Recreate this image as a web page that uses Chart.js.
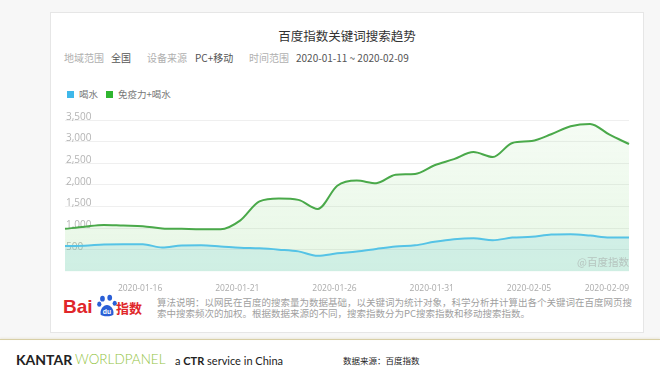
<!DOCTYPE html>
<html lang="zh-CN">
<head>
<meta charset="utf-8">
<title>百度指数关键词搜索趋势</title>
<script src="https://cdn.jsdelivr.net/npm/chart.js@4.4.1/dist/chart.umd.min.js"></script>
<style>
  html, body { margin: 0; padding: 0; }
  body {
    width: 660px; height: 372px; position: relative; overflow: hidden;
    background: #ffffff;
    font-family: "Noto Sans CJK SC", "Noto Sans", sans-serif;
  }
  .top-bg { position: absolute; left: 0; top: 0; width: 660px; height: 339px; background: #f7f7f7; }
  .rule { position: absolute; left: 0; top: 339px; width: 660px; height: 1px; background: #d8cfa6; box-shadow: 0 -1px 2px rgba(200,190,140,0.35); }
  .card {
    position: absolute; left: 50px; top: 12px; width: 592px; height: 319px;
    background: #fff; border: 1px solid #e6e6e6;
  }
  .abs { position: absolute; white-space: nowrap; }
  .title { left: 50px; width: 594px; top: 26px; text-align: center; font-size: 12.5px; color: #333; }
  .sub { top: 51px; font-size: 10px; line-height: 14px; }
  .lbl { color: #b0b0b0; }
  .val { color: #555; }
  .legend { top: 87px; font-size: 9.5px; color: #777; line-height: 14px; }
  .sw { position: absolute; top: 91px; width: 7px; height: 7px; }
  #chartBox { position: absolute; left: 50px; top: 100px; width: 593px; height: 192px; }
  .mark { left: 577px; top: 254px; font-size: 10.5px; color: rgba(160,160,160,0.55); }
  .note { left: 157px; top: 297px; font-size: 9.5px; line-height: 11px; color: #a0a0a0; }
  .foot { top: 353px; font-size: 11px; color: #222; font-family: "Lato", "Open Sans", sans-serif; }
</style>
</head>
<body>
<div class="top-bg"></div>
<div class="rule"></div>
<div class="card"></div>

<div class="abs title">百度指数关键词搜索趋势</div>

<div class="abs sub lbl" style="left:64px">地域范围</div>
<div class="abs sub val" style="left:111px">全国</div>
<div class="abs sub lbl" style="left:147px">设备来源</div>
<div class="abs sub val" style="left:195px">PC+移动</div>
<div class="abs sub lbl" style="left:249px">时间范围</div>
<div class="abs sub val" style="left:296px">2020-01-11 ~ 2020-02-09</div>

<div class="sw" style="left:67px;background:#3fb8ea"></div>
<div class="abs legend" style="left:79px">喝水</div>
<div class="sw" style="left:106px;background:#2fb52f"></div>
<div class="abs legend" style="left:118px">免疫力+喝水</div>

<div id="chartBox"><canvas id="trendChart" width="593" height="192"></canvas></div>
<div class="abs mark">@百度指数</div>

<!-- Baidu 指数 logo -->
<div class="abs" style="left:63px;top:296px;font:bold 19px 'Liberation Sans',Arial,sans-serif;color:#e0262a">Bai</div>
<svg class="abs" style="left:97px;top:293px" width="20" height="25" viewBox="0 0 22 25">
  <ellipse cx="6" cy="5" rx="2.6" ry="3.2" fill="#2a5fd6"/>
  <ellipse cx="14" cy="4" rx="2.6" ry="3.2" fill="#2a5fd6"/>
  <ellipse cx="2.5" cy="11" rx="2.3" ry="2.8" fill="#2a5fd6"/>
  <ellipse cx="19.5" cy="10" rx="2.3" ry="2.8" fill="#2a5fd6"/>
  <path d="M4 22 C3 17 7 12 11 12 C15 12 19 17 18 22 C17 25 5 25 4 22 Z" fill="#2a5fd6"/>
  <text x="11" y="22" text-anchor="middle" font-family="Liberation Sans, Arial" font-size="7.5" font-weight="bold" fill="#fff">du</text>
</svg>
<div class="abs" style="left:116px;top:298px;font:bold 13px 'Noto Sans CJK SC',sans-serif;color:#e0262a">指数</div>

<div class="abs note">算法说明：以网民在百度的搜索量为数据基础，以关键词为统计对象，科学分析并计算出各个关键词在百度网页搜<br>索中搜索频次的加权。根据数据来源的不同，搜索指数分为PC搜索指数和移动搜索指数。</div>

<div class="abs foot" style="left:16px;top:351px;font-size:14px;font-weight:bold">KANTAR</div>
<div class="abs foot" style="left:75px;top:351px;font-size:13.5px;font-weight:300;color:#93c443">WORLDPANEL</div>
<div class="abs foot" style="left:175px;top:354px">a <b>CTR</b> service in China</div>
<div class="abs foot" style="left:343px;top:354px;font-size:8.5px;font-family:'Noto Sans CJK SC',sans-serif">数据来源：百度指数</div>

<script>
// --- wartości (2020-01-11 ~ 2020-02-09) ---
const dates = [
  '2020-01-11', '2020-01-12', '2020-01-13', '2020-01-14', '2020-01-15',
  '2020-01-16', '2020-01-17', '2020-01-18', '2020-01-19', '2020-01-20',
  '2020-01-21', '2020-01-22', '2020-01-23', '2020-01-24', '2020-01-25',
  '2020-01-26', '2020-01-27', '2020-01-28', '2020-01-29', '2020-01-30',
  '2020-01-31', '2020-02-01', '2020-02-02', '2020-02-03', '2020-02-04',
  '2020-02-05', '2020-02-06', '2020-02-07', '2020-02-08', '2020-02-09'
];
const shownDates = ['2020-01-16', '2020-01-21', '2020-01-26', '2020-01-31', '2020-02-05', '2020-02-09'];

// 喝水
const drinkWater = [
  590, 595, 625, 630, 628, 555, 600, 605, 580, 550,
  535, 505, 465, 362, 420, 460, 520, 575, 605, 685,
  745, 768, 722, 783, 800, 852, 860, 830, 785, 783
];
// 免疫力+喝水
const immunityWater = [
  985, 1035, 1075, 1060, 1048, 995, 985, 975, 975, 1175,
  1620, 1685, 1655, 1445, 1980, 2100, 2040, 2235, 2255, 2455,
  2595, 2760, 2645, 2970, 3015, 3170, 3355, 3410, 3160, 2945
];
const yTicks = [0, 500, 1000, 1500, 2000, 2500, 3000, 3500];

// gradient pod zieloną linią
const greenFill = (context) => {
  const area = context.chart.chartArea;
  if (!area) return 'rgba(120, 210, 110, 0.15)';
  const g = context.chart.ctx.createLinearGradient(0, area.top, 0, area.bottom);
  g.addColorStop(0, 'rgba(130, 215, 120, 0.08)');
  g.addColorStop(1, 'rgba(120, 210, 110, 0.18)');
  return g;
};

const ctx = document.getElementById('trendChart').getContext('2d');

new Chart(ctx, {
  type: 'line',
  data: {
    labels: dates,
    datasets: [{
      label: '喝水',
      data: drinkWater,
      borderColor: '#55c3e6',
      backgroundColor: 'rgba(80, 195, 215, 0.16)',
      borderWidth: 2,
      fill: 'origin',
      cubicInterpolationMode: 'monotone',
      pointRadius: 0,
      order: 1
    }, {
      label: '免疫力+喝水',
      data: immunityWater,
      borderColor: '#4aa94a',
      backgroundColor: greenFill,
      borderWidth: 2,
      fill: 'origin',
      cubicInterpolationMode: 'monotone',
      pointRadius: 0,
      order: 2
    }]
  },
  options: {
    responsive: false,
    animation: false,
    devicePixelRatio: 1,
    layout: { padding: { left: 15, right: 14, top: 20, bottom: 0 } },
    plugins: {
      legend: { display: false },
      tooltip: { enabled: false }
    },
    scales: {
      x: {
        grid: { display: false },
        border: { display: false },
        afterFit: (scale) => { scale.height = 20.5; },
        ticks: {
          autoSkip: false,
          maxRotation: 0,
          align: 'end',
          padding: 4,
          color: '#aaaaaa',
          font: { size: 8.5, family: '"Open Sans", "Noto Sans", sans-serif' },
          callback: function (value) {
            const lbl = this.getLabelForValue(value);
            return shownDates.includes(lbl) ? lbl : '';
          }
        }
      },
      y: {
        min: yTicks[0],
        max: yTicks[yTicks.length - 1],
        border: { display: false },
        afterFit: (scale) => { scale.width = 0; },
        afterBuildTicks: (scale) => { scale.ticks = yTicks.map(v => ({ value: v })); },
        grid: {
          drawTicks: false,
          color: (c) => c.tick && c.tick.value === 0 ? 'rgba(0,0,0,0)' : '#efefef'
        },
        ticks: {
          mirror: true,
          padding: 1,
          labelOffset: -3,
          color: '#b4b4b4',
          font: { size: 10, family: '"Open Sans", "Noto Sans", sans-serif' },
          callback: (value) => value === 0 ? '' : value.toLocaleString('en-US')
        }
      }
    }
  }
});
</script>
</body>
</html>
